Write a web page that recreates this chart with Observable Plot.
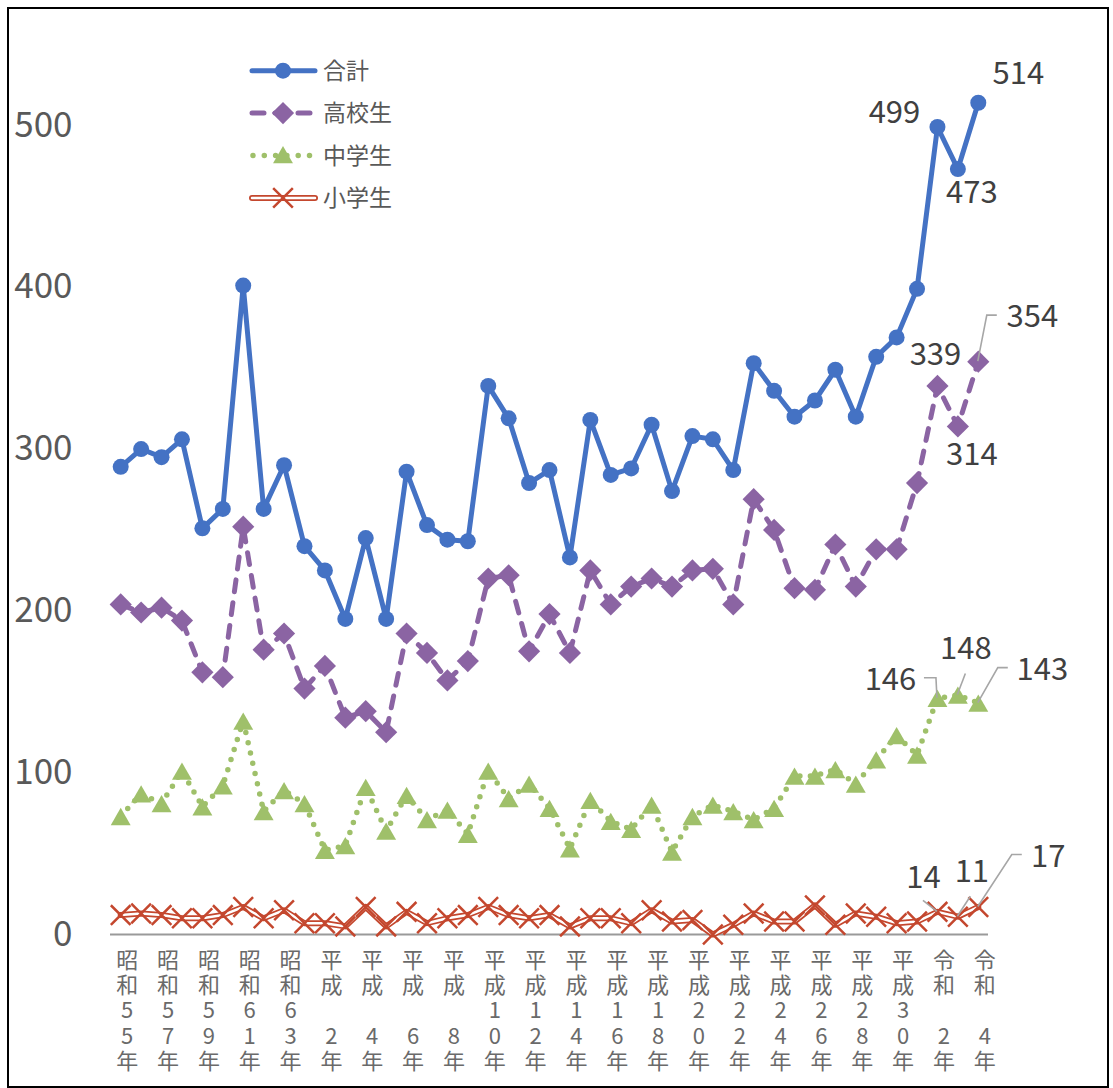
<!DOCTYPE html>
<html>
<head>
<meta charset="utf-8">
<script src="https://cdn.jsdelivr.net/npm/d3@7"></script>
<script src="https://cdn.jsdelivr.net/npm/@observablehq/plot@0.6"></script>
<style>
  body { margin: 0; background: #fff; }
  #wrap { position: relative; width: 1113px; height: 1088px; overflow: hidden; }
  #frame { position: absolute; left: 7px; top: 7px; width: 1102px; height: 1081px; border: 2px solid #000; box-sizing: border-box; pointer-events: none; }
</style>
</head>
<body>
<div id="wrap"><div id="chart"></div><div id="frame"></div></div>
<script>
// ---- data ----
const years = [1980,1981,1982,1983,1984,1985,1986,1987,1988,1989,
               1990,1991,1992,1993,1994,1995,1996,1997,1998,1999,
               2000,2001,2002,2003,2004,2005,2006,2007,2008,2009,
               2010,2011,2012,2013,2014,2015,2016,2017,2018,2019,
               2020,2021,2022];
const tickYears = [1980,1982,1984,1986,1988,1990,1992,1994,1996,1998,2000,
                   2002,2004,2006,2008,2010,2012,2014,2016,2018,2020,2022];
const tickLabels = ["昭和55年","昭和57年","昭和59年","昭和61年","昭和63年",
                    "平成2年","平成4年","平成6年","平成8年","平成10年","平成12年",
                    "平成14年","平成16年","平成18年","平成20年","平成22年","平成24年",
                    "平成26年","平成28年","平成30年","令和2年","令和4年"];
const yTicks = [0,100,200,300,400,500];
const seriesNames = ["合計","高校生","中学生","小学生"];
const total = [289,300,295,306,251,263,401,263,290,240,
               225,195,245,195,286,253,244,243,339,319,
               279,287,233,318,284,288,315,274,308,306,
               287,353,336,320,330,349,320,357,369,399,
               499,473,514];
const high  = [204,199,202,194,162,159,252,176,186,152,
               166,134,138,125,186,174,157,169,220,222,
               175,198,174,225,204,215,220,215,225,226,
               204,269,250,214,213,241,215,238,238,279,
               339,314,354];
const mid   = [73,87,81,101,79,92,132,76,89,81,
               52,55,91,64,86,71,77,62,101,84,
               93,78,53,83,70,65,80,51,73,80,
               76,71,78,98,98,102,93,108,123,111,
               146,148,143];
const elem  = [12,13,12,10,10,12,17,10,15,7,
               7,5,17,5,14,7,10,12,17,12,
               10,12,5,10,10,7,15,8,9,0,
               6,13,8,8,18,6,13,11,7,8,
               14,11,17];
const labeledYears = [2020, 2021, 2022];

// ---- styling / layout ----
const C = {total: "#4472C4", high: "#8B64A3", mid: "#9FC06A", elem: "#C4472E"};
const seriesArrays = {total, high, mid, elem};
const seriesKeys = ["total", "high", "mid", "elem"];

const data = years.map((year, i) => ({year, total: total[i], high: high[i], mid: mid[i], elem: elem[i]}));

// label offsets (pixels, relative to the data point)
const labelLayout = {
  total: [[-43,-14],[14,24],[40,-29]],
  high:  [[-2,-31],[14,29],[54,-45]],
  mid:   [[-47,-18],[8,-46],[64,-33]],
  elem:  [[-14,-34],[14,-45],[70,-50]]
};
const leaderLayout = {
  high: [null, null, [[0,0],[9,-46],[19,-46]]],
  mid:  [[[0,0],[-1,-20],[-13,-20]], [[0,0],[8,-21]], [[0,0],[20,-35],[30,-35]]],
  elem: [[[0,0],[-14,-11]], [[0,0],[13,-20]], [[0,0],[34,-52],[44,-52]]]
};

function stackLabel(label) {
  const m = label.match(/^(.+?)(\d+)(年)$/);
  const era = [...m[1]];
  const digits = m[2].padStart(2, " ");
  return [...era, ...digits, m[3]].join("\n");
}
const stacked = tickLabels.map(stackLabel);

const labelMarks = [];
for (const key of seriesKeys) {
  labeledYears.forEach((yr, j) => {
    const i = years.indexOf(yr);
    const [dx, dy] = labelLayout[key][j];
    labelMarks.push(Plot.text([{year: yr, v: seriesArrays[key][i]}], {
      x: "year", y: "v", text: d => String(d.v), dx, dy,
      fontSize: 31, fill: "#404040", textAnchor: "middle"
    }));
  });
}

function leaderMark(index, scales) {
  const g = d3.create("svg:g").attr("fill", "none").attr("stroke", "#a6a6a6").attr("stroke-width", 1.6);
  for (const key of Object.keys(leaderLayout)) {
    leaderLayout[key].forEach((path, j) => {
      if (!path) return;
      const yr = labeledYears[j];
      const v = seriesArrays[key][years.indexOf(yr)];
      const x0 = scales.x(yr), y0 = scales.y(v);
      g.append("path").attr("d", "M" + path.map(([a, b]) => (x0 + a) + "," + (y0 + b)).join("L"));
    });
  }
  return g.node();
}

function legendMark() {
  const g = d3.create("svg:g");
  const x0 = 252, x1 = 315, xm = 283, xt = 323, y0 = 70.7, gap = 42.4;
  const sym = (type, r) => d3.symbol(type, Math.PI * r * r)();
  seriesKeys.forEach((key, i) => {
    const y = y0 + gap * i;
    const row = g.append("g");
    if (key === "total") {
      row.append("line").attr("x1", x0).attr("x2", x1).attr("y1", y).attr("y2", y)
        .attr("stroke", C.total).attr("stroke-width", 5).attr("stroke-linecap", "round");
      row.append("path").attr("d", sym(d3.symbolCircle, 8)).attr("transform", `translate(${xm},${y})`).attr("fill", C.total);
    } else if (key === "high") {
      row.append("line").attr("x1", x0).attr("x2", x1).attr("y1", y).attr("y2", y)
        .attr("stroke", C.high).attr("stroke-width", 5).attr("stroke-linecap", "round").attr("stroke-dasharray", "12,11");
      row.append("path").attr("d", sym(d3.symbolDiamond2, 10)).attr("transform", `translate(${xm},${y})`).attr("fill", C.high);
    } else if (key === "mid") {
      row.append("line").attr("x1", x0 + 1).attr("x2", x1).attr("y1", y).attr("y2", y)
        .attr("stroke", C.mid).attr("stroke-width", 5.5).attr("stroke-linecap", "round").attr("stroke-dasharray", "0,11.3");
      row.append("path").attr("d", sym(d3.symbolTriangle, 7.4)).attr("transform", `translate(${xm},${y + 2})`).attr("fill", C.mid);
    } else {
      row.append("line").attr("x1", x0).attr("x2", x1).attr("y1", y).attr("y2", y)
        .attr("stroke", C.elem).attr("stroke-width", 6).attr("stroke-linecap", "round");
      row.append("line").attr("x1", x0).attr("x2", x1).attr("y1", y).attr("y2", y)
        .attr("stroke", "#fff").attr("stroke-width", 2.5).attr("stroke-linecap", "round");
      row.append("path").attr("d", sym(d3.symbolTimes, 9)).attr("transform", `translate(${xm},${y})`)
        .attr("fill", "none").attr("stroke", C.elem).attr("stroke-width", 2.5);
    }
    row.append("text").attr("x", xt).attr("y", y).attr("dy", "0.36em")
      .attr("text-anchor", "start")
      .attr("font-size", 23).attr("fill", "#595959").text(seriesNames[i]);
  });
  return g.node();
}

const chart = Plot.plot({
  width: 1113,
  height: 1088,
  marginLeft: 110,
  marginRight: 125,
  marginTop: 44,
  marginBottom: 154,
  style: {fontFamily: "'Noto Sans CJK JP', 'Noto Sans', sans-serif", background: "transparent", overflow: "visible"},
  x: {type: "point", domain: years, padding: 0.5, round: false},
  y: {domain: [0, 550]},
  marks: [
    Plot.axisY({ticks: yTicks, tickSize: 0, tickPadding: 38, fontSize: 35, fill: "#595959", label: null}),
    Plot.axisX({ticks: tickYears, tickFormat: d => stacked[tickYears.indexOf(d)], tickSize: 0, tickPadding: 16,
                fontSize: 22, lineHeight: 1.14, fill: "#6a6a6a", dx: 6.5, label: null}),
    Plot.ruleY([0], {stroke: "#9a9a9a", strokeWidth: 2}),
    // 合計
    Plot.line(data, {x: "year", y: "total", stroke: C.total, strokeWidth: 5, strokeLinejoin: "round"}),
    Plot.dot(data, {x: "year", y: "total", r: 8, fill: C.total, stroke: null}),
    // 高校生
    Plot.line(data, {x: "year", y: "high", stroke: C.high, strokeWidth: 5, strokeDasharray: "12,11", strokeLinecap: "round"}),
    Plot.dot(data, {x: "year", y: "high", symbol: "diamond2", r: 10, fill: C.high, stroke: "none"}),
    // 中学生
    Plot.line(data, {x: "year", y: "mid", stroke: C.mid, strokeWidth: 5.5, strokeDasharray: "0,10.5", strokeLinecap: "round"}),
    Plot.dot(data, {x: "year", y: "mid", symbol: "triangle", r: 7.4, dy: 3, fill: C.mid, stroke: "none"}),
    // 小学生
    Plot.line(data, {x: "year", y: "elem", stroke: C.elem, strokeWidth: 6}),
    Plot.line(data, {x: "year", y: "elem", stroke: "#fff", strokeWidth: 2.5}),
    Plot.dot(data, {x: "year", y: "elem", symbol: "times", r: 9, stroke: C.elem, strokeWidth: 2.5, fill: "none"}),
    leaderMark,
    ...labelMarks,
    legendMark
  ]
});
document.getElementById("chart").appendChild(chart);
</script>
</body>
</html>
